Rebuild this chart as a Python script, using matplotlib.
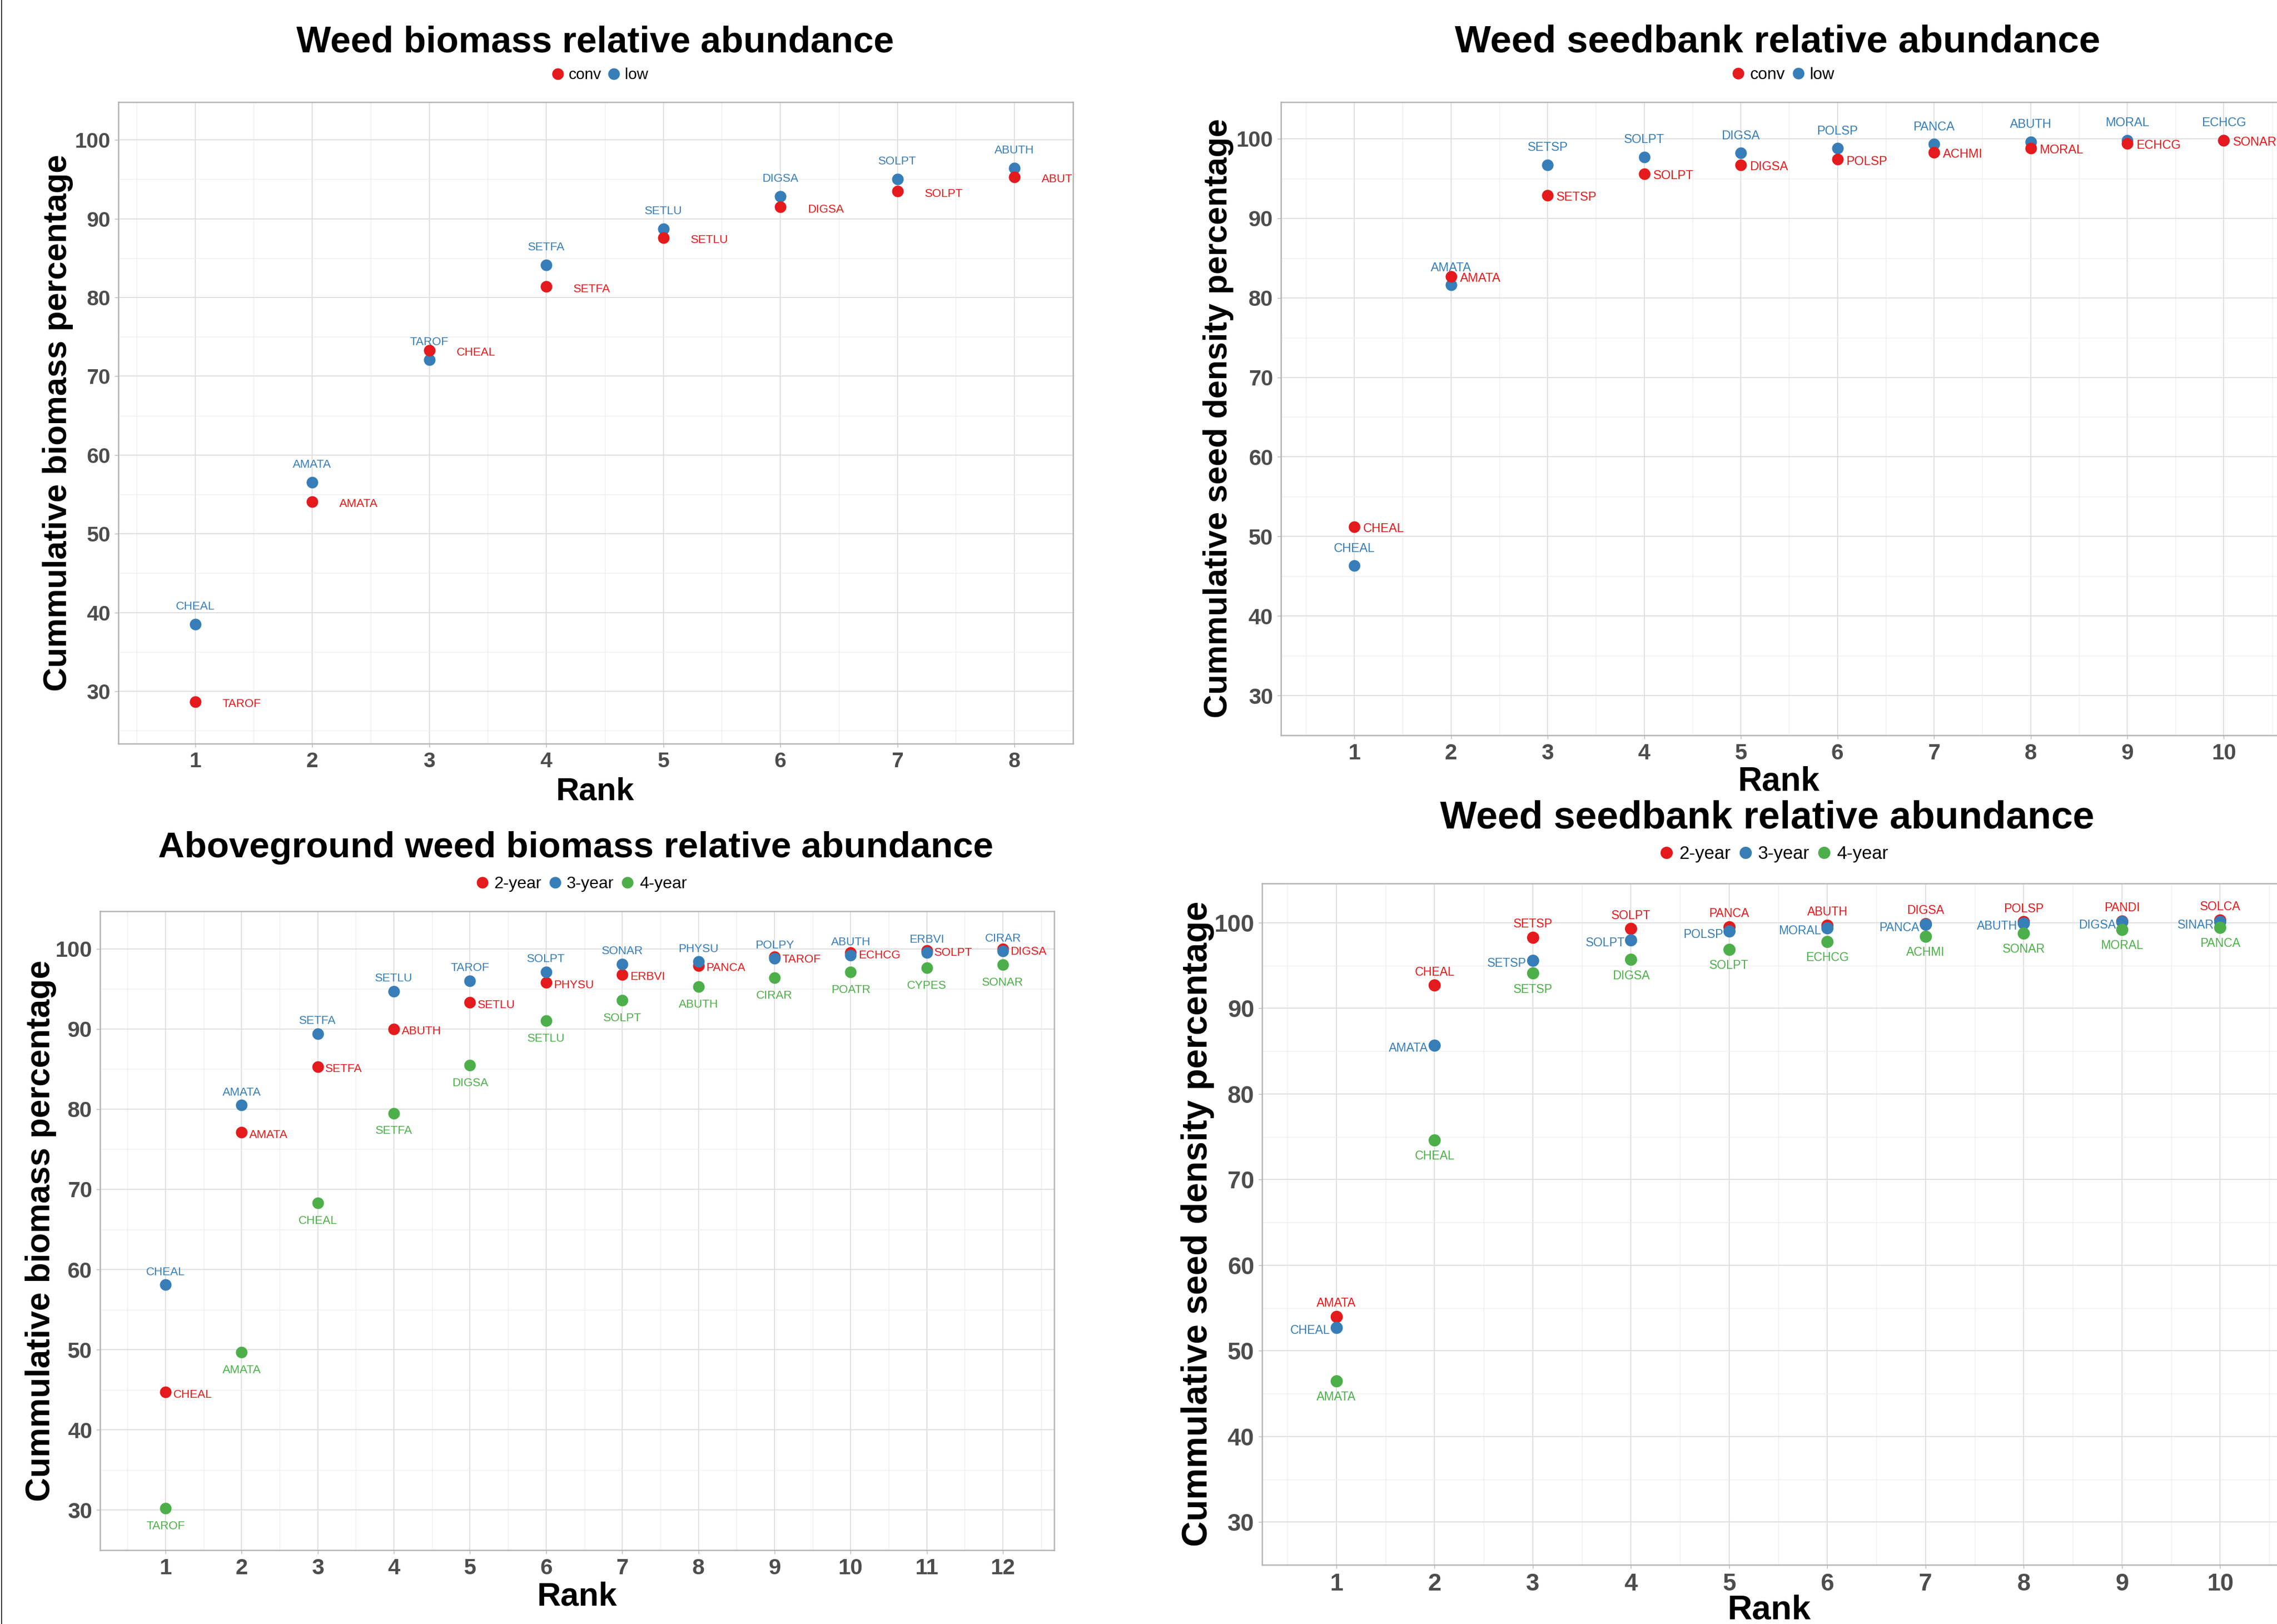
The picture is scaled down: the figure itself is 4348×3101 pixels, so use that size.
import matplotlib
matplotlib.use("Agg")
import matplotlib.pyplot as plt
from matplotlib.lines import Line2D

plt.rcParams['font.family'] = ['Liberation Sans', 'DejaVu Sans']

# ---------------- data ----------------
# Panel A: weed biomass (conv / low)
a_rank = [1, 2, 3, 4, 5, 6, 7, 8]
a_low_vals = [38.5, 56.5, 72.1, 84.1, 88.7, 92.8, 95.0, 96.4]
a_low_labels = ['CHEAL', 'AMATA', 'TAROF', 'SETFA', 'SETLU', 'DIGSA', 'SOLPT', 'ABUTH']
a_conv_vals = [28.7, 54.1, 73.3, 81.4, 87.6, 91.5, 93.5, 95.3]
a_conv_labels = ['TAROF', 'AMATA', 'CHEAL', 'SETFA', 'SETLU', 'DIGSA', 'SOLPT', 'ABUTH']

# Panel B: weed seedbank (conv / low)
b_rank = [1, 2, 3, 4, 5, 6, 7, 8, 9, 10]
b_low_vals = [46.3, 81.6, 96.7, 97.7, 98.2, 98.8, 99.3, 99.6, 99.8, 99.8]
b_low_labels = ['CHEAL', 'AMATA', 'SETSP', 'SOLPT', 'DIGSA', 'POLSP', 'PANCA', 'ABUTH', 'MORAL', 'ECHCG']
b_conv_vals = [51.2, 82.7, 92.9, 95.6, 96.7, 97.4, 98.3, 98.8, 99.4, 99.8]
b_conv_labels = ['CHEAL', 'AMATA', 'SETSP', 'SOLPT', 'DIGSA', 'POLSP', 'ACHMI', 'MORAL', 'ECHCG', 'SONAR']

# Panel C: aboveground weed biomass (2/3/4-year)
c_rank = [1, 2, 3, 4, 5, 6, 7, 8, 9, 10, 11, 12]
c_y2_vals = [44.7, 77.1, 85.3, 90.0, 93.3, 95.8, 96.8, 97.9, 99.0, 99.5, 99.8, 99.95]
c_y2_labels = ['CHEAL', 'AMATA', 'SETFA', 'ABUTH', 'SETLU', 'PHYSU', 'ERBVI', 'PANCA', 'TAROF', 'ECHCG', 'SOLPT', 'DIGSA']
c_y3_vals = [58.1, 80.5, 89.4, 94.7, 96.0, 97.1, 98.1, 98.4, 98.8, 99.2, 99.55, 99.7]
c_y3_labels = ['CHEAL', 'AMATA', 'SETFA', 'SETLU', 'TAROF', 'SOLPT', 'SONAR', 'PHYSU', 'POLPY', 'ABUTH', 'ERBVI', 'CIRAR']
c_y4_vals = [30.2, 49.7, 68.3, 79.5, 85.5, 91.0, 93.6, 95.3, 96.4, 97.1, 97.6, 98.0]
c_y4_labels = ['TAROF', 'AMATA', 'CHEAL', 'SETFA', 'DIGSA', 'SETLU', 'SOLPT', 'ABUTH', 'CIRAR', 'POATR', 'CYPES', 'SONAR']

# Panel D: weed seedbank (2/3/4-year)
d_rank = [1, 2, 3, 4, 5, 6, 7, 8, 9, 10]
d_y2_vals = [54.0, 92.7, 98.3, 99.3, 99.5, 99.7, 99.9, 100.1, 100.2, 100.3]
d_y2_labels = ['AMATA', 'CHEAL', 'SETSP', 'SOLPT', 'PANCA', 'ABUTH', 'DIGSA', 'POLSP', 'PANDI', 'SOLCA']
d_y3_vals = [52.7, 85.7, 95.6, 98.0, 99.0, 99.4, 99.8, 99.95, 100.1, 100.1]
d_y3_labels = ['CHEAL', 'AMATA', 'SETSP', 'SOLPT', 'POLSP', 'MORAL', 'PANCA', 'ABUTH', 'DIGSA', 'SINAR']
d_y4_vals = [46.5, 74.6, 94.1, 95.7, 96.9, 97.8, 98.4, 98.8, 99.2, 99.45]
d_y4_labels = ['AMATA', 'CHEAL', 'SETSP', 'DIGSA', 'SOLPT', 'ECHCG', 'ACHMI', 'SONAR', 'MORAL', 'PANCA']

yticks = [30, 40, 50, 60, 70, 80, 90, 100]

RED = '#E41A1C'
BLUE = '#377EB8'
GREEN = '#4DAF4A'

# ---------------- figure ----------------
W, H = 4348, 3101
fig = plt.figure(figsize=(W / 100, H / 100), dpi=100)


def fx(px):
    return px / W


def fy(py):
    return 1 - py / H


def make_axes(l, t, r, b, xlim, ylim, nx, tick_fs):
    ax = fig.add_axes([l / W, 1 - b / H, (r - l) / W, (b - t) / H])
    ax.set_xlim(*xlim)
    ax.set_ylim(*ylim)
    xt = list(range(1, nx + 1))
    ax.set_xticks(xt, [str(v) for v in xt], fontweight='bold')
    ax.set_yticks(yticks, [str(v) for v in yticks], fontweight='bold')
    ax.set_xticks([v + 0.5 for v in range(0, nx + 1)], minor=True)
    ax.set_yticks([v + 5 for v in range(20, 100, 10)], minor=True)
    ax.tick_params(which='major', direction='out', length=5, width=1.0,
                   color='#B3B3B3', labelsize=tick_fs, labelcolor='#4D4D4D', pad=5.8)
    ax.tick_params(which='minor', length=0)
    ax.grid(which='major', color='#E0E0E0', linewidth=1.45)
    ax.grid(which='minor', color='#EDEDED', linewidth=0.9)
    ax.set_axisbelow(True)
    for s in ax.spines.values():
        s.set_color('#B3B3B3')
        s.set_linewidth(1.8)
    return ax


def pts(ax, xs, ys, color, s):
    ax.scatter(xs, ys, s=s, color=color, linewidths=0, zorder=3)


def labels(ax, xs, ys, texts, color, dx, dy, ha, fs):
    base = dy - 0.358 * fs
    for x, y, t in zip(xs, ys, texts):
        ax.annotate(t, xy=(x, y), xytext=(dx, base), textcoords='offset points',
                    ha=ha, va='baseline', fontsize=fs, color=color,
                    clip_on=True, zorder=4)


def legend(ax, items, cx, cy, fs, ms):
    handles = [Line2D([], [], linestyle='none', marker='o', markersize=ms,
                      markerfacecolor=c, markeredgewidth=0) for c, _ in items]
    ax.legend(handles, [t for _, t in items], loc='center',
              bbox_to_anchor=(fx(cx), fy(cy)), bbox_transform=fig.transFigure,
              ncol=len(items), frameon=False, fontsize=fs, handlelength=0.8,
              handletextpad=0.3, columnspacing=0.4, borderpad=0, borderaxespad=0)


def titles(title, tx, tb, tfs, ylab, yx, ycy, yfs, rx, rb, rfs):
    fig.text(fx(tx), fy(tb), title, ha='center', va='baseline',
             fontsize=tfs, fontweight='bold', color='black')
    fig.text(fx(yx), fy(ycy), ylab, ha='center', va='center', rotation=90,
             fontsize=yfs, fontweight='bold', color='black')
    fig.text(fx(rx), fy(rb), 'Rank', ha='center', va='baseline',
             fontsize=rfs, fontweight='bold', color='black')


# ---- Panel A (top left) ----
axA = make_axes(226, 195, 2049, 1420, (0.344, 8.477), (23.35, 104.8), 8, 29.5)
pts(axA, a_rank, a_low_vals, BLUE, 255)
pts(axA, a_rank, a_conv_vals, RED, 255)
labels(axA, a_rank, a_low_vals, a_low_labels, BLUE, 0, 25.9, 'center', 16)
labels(axA, a_rank, a_conv_vals, a_conv_labels, RED, 37.4, -1.9, 'left', 16)
legend(axA, [(RED, 'conv'), (BLUE, 'low')], 1145, 143, 21.4, 16)
titles('Weed biomass relative abundance', 1137, 99, 50.3,
       'Cummulative biomass percentage', 111, 807, 45.5, 1137, 1527, 44)

# ---- Panel B (top right) ----
axB = make_axes(2446, 195, 4400, 1404, (0.241, 10.832), (26.65, 104.6), 10, 30.5)
pts(axB, b_rank, b_low_vals, BLUE, 255)
pts(axB, b_rank, b_conv_vals, RED, 255)
labels(axB, b_rank, b_low_vals, b_low_labels, BLUE, 0, 25.2, 'center', 17)
labels(axB, b_rank, b_conv_vals, b_conv_labels, RED, 12.2, -1.4, 'left', 17)
legend(axB, [(RED, 'conv'), (BLUE, 'low')], 3405, 143, 22.8, 16)
titles('Weed seedbank relative abundance', 3394, 99, 52.6,
       'Cummulative seed density percentage', 2326, 799, 45.2, 3397, 1510, 46)

# ---- Panel C (bottom left) ----
axC = make_axes(191, 1740, 2013, 2960, (0.14, 12.674), (26.47, 104.68), 12, 30.5)
pts(axC, c_rank, c_y2_vals, RED, 255)
pts(axC, c_rank, c_y3_vals, BLUE, 255)
pts(axC, c_rank, c_y4_vals, GREEN, 255)
labels(axC, c_rank, c_y3_vals, c_y3_labels, BLUE, 0, 19.1, 'center', 16)
labels(axC, c_rank, c_y2_vals, c_y2_labels, RED, 10.4, -1.9, 'left', 16)
labels(axC, c_rank, c_y4_vals, c_y4_labels, GREEN, 0, -23.0, 'center', 16)
legend(axC, [(RED, '2-year'), (BLUE, '3-year'), (GREEN, '4-year')], 1110, 1688, 23, 16)
titles('Aboveground weed biomass relative abundance', 1099, 1637, 50,
       'Cummulative biomass percentage', 78, 2350, 45.8, 1102, 3065, 45)

# ---- Panel D (bottom right) ----
axD = make_axes(2410, 1687, 4400, 2988, (0.243, 10.856), (26.52, 104.59), 10, 33)
pts(axD, d_rank, d_y2_vals, RED, 280)
pts(axD, d_rank, d_y3_vals, BLUE, 280)
pts(axD, d_rank, d_y4_vals, GREEN, 280)
labels(axD, d_rank, d_y2_vals, d_y2_labels, RED, 0, 19.4, 'center', 16.5)
labels(axD, d_rank, d_y3_vals, d_y3_labels, BLUE, -8.6, -2.9, 'right', 16.5)
labels(axD, d_rank, d_y4_vals, d_y4_labels, GREEN, 0, -20.9, 'center', 16.5)
legend(axD, [(RED, '2-year'), (BLUE, '3-year'), (GREEN, '4-year')], 3387, 1631, 25, 16.8)
titles('Weed seedbank relative abundance', 3375, 1582, 53.4,
       'Cummulative seed density percentage', 2287, 2337, 48.7, 3378, 3092, 47)

# thin frame line on the left edge
fig.add_artist(Line2D([fx(3), fx(3)], [0, 1], color='#222222', linewidth=1.3,
                      transform=fig.transFigure))

fig.savefig('out.png', dpi=100)
